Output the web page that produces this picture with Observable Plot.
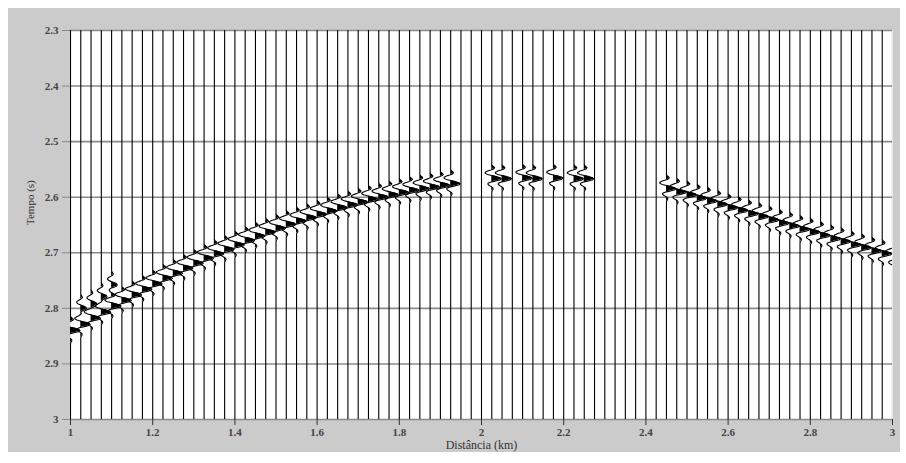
<!DOCTYPE html>
<html><head><meta charset="utf-8">
<script src="https://cdn.jsdelivr.net/npm/d3@7"></script>
<script src="https://cdn.jsdelivr.net/npm/@observablehq/plot@0.6"></script>
<style>
html,body{margin:0;padding:0;background:#fff;}
#panel{position:absolute;left:8px;top:8px;width:892px;height:444px;background:#cbcbcb;}
#chart{position:absolute;left:0;top:0;}
#chart svg, #chart svg text{font-family:"Liberation Serif","DejaVu Serif",serif !important;}
</style></head><body><div id="panel"></div><div id="chart"></div>
<script>
// Trace grid (km) and picked event time (s) of the main peak on each trace (null = no event)
const firstOffset = 1.0, traceSpacing = 0.025, traceCount = 81;
const eventTimes = [
  2.840,2.829,2.818,2.807,2.796,2.786,2.776,2.766,2.756,2.746,
  2.737,2.728,2.719,2.710,2.702,2.694,2.686,2.678,2.670,2.663,
  2.656,2.649,2.643,2.637,2.631,2.625,2.619,2.614,2.609,2.604,
  2.600,2.596,2.592,2.588,2.585,2.582,2.579,2.576,
  null,null,null,2.567,2.567,null,2.566,2.567,null,2.566,null,2.567,2.567,
  null,null,null,null,null,null,null,
  2.585,2.591,2.596,2.602,2.607,2.613,2.619,2.624,2.630,2.635,2.641,2.647,
  2.652,2.658,2.663,2.669,2.675,2.680,2.686,2.691,2.697,2.702,2.708
];
// weak earlier arrivals on the near traces
const secondaryOffsets = [1.025, 1.05, 1.075, 1.1];
const secondaryTimes = [2.800, 2.792, 2.779, 2.758];
const secondaryAmp = 0.6;
// wavelet samples every 2 ms from -26 ms to +26 ms (peak normalised to 1)
const waveletStart = -0.026, waveletStep = 0.002;
const wavelet = [0,0.05,0.2,0.3,0.2,-0.1,-0.45,-0.7,-0.7,-0.45,0,0.5,0.9,1.0,0.85,0.35,-0.15,-0.4,-0.4,-0.25,-0.05,0.1,0.15,0.1,0.02,0,0];
const gain = 0.023; // km per unit amplitude
const xTicks = [1,1.2,1.4,1.6,1.8,2,2.2,2.4,2.6,2.8,3];
const yTicks = [2.3,2.4,2.5,2.6,2.7,2.8,2.9,3.0];

function w(dt){
  const f = (dt - waveletStart)/waveletStep;
  if (f < 0 || f >= wavelet.length-1) return 0;
  const i = Math.floor(f), r = f - i;
  return wavelet[i]*(1-r) + wavelet[i+1]*r;
}
const pts = [];
for (let k = 0; k < traceCount; k++){
  const off = +(firstOffset + k*traceSpacing).toFixed(3);
  const evs = [];
  if (eventTimes[k] != null) evs.push([eventTimes[k], 1]);
  secondaryOffsets.forEach((o,j)=>{ if (Math.abs(o-off)<1e-6) evs.push([secondaryTimes[j], secondaryAmp]); });
  for (let i = 0; i <= 700; i++){
    const t = +(2.3 + i/1000).toFixed(3);
    let v = 0;
    for (const [te,a] of evs) v += a*w(t-te);
    v *= gain;
    pts.push({k, t, x: off+v, x0: off, xf: off+Math.max(0,v)});
  }
}
const fmt = d => String(+(+d).toFixed(1));
const serif = "Liberation Serif";
const plot = Plot.plot({
  width: 906, height: 463,
  marginLeft: 70, marginRight: 14, marginTop: 30, marginBottom: 44,
  x: {domain: [1, 3]},
  y: {domain: [2.3, 3.0], reverse: true},
  style: {fontFamily: serif, fontSize: "11px", color: "#333", background: "transparent", overflow: "visible"},
  marks: [
    Plot.frame({fill: "white", stroke: null}),
    Plot.gridY(yTicks, {stroke: "#8a8a8a", strokeOpacity: 1, strokeWidth: 1.6}),
    Plot.areaX(pts, {x1: "x0", x2: "xf", y: "t", z: "k", fill: "black", curve: "linear", clip: true}),
    Plot.line(pts, {x: "x", y: "t", z: "k", stroke: "black", strokeWidth: 1.1, clip: true}),
    Plot.axisY(yTicks, {tickSize: 8, tickPadding: 4, stroke: "#8a8a8a", label: null, tickFormat: fmt, fontFamily: serif, fontWeight: "bold", fill: "#444"}),
    Plot.axisX(xTicks, {tickSize: 6, tickPadding: 3, label: null, tickFormat: fmt, fontFamily: serif, fontWeight: "bold", fill: "#444"}),
    Plot.text(["Tempo (s)"], {frameAnchor: "left", dx: -40, rotate: -90, fontSize: 11, fontFamily: serif, fill: "#333"}),
    Plot.text(["Distância (km)"], {frameAnchor: "bottom", dy: 29, fontSize: 12, fontFamily: serif, fill: "#333"})
  ]
});
document.getElementById("chart").appendChild(plot);
</script></body></html>
